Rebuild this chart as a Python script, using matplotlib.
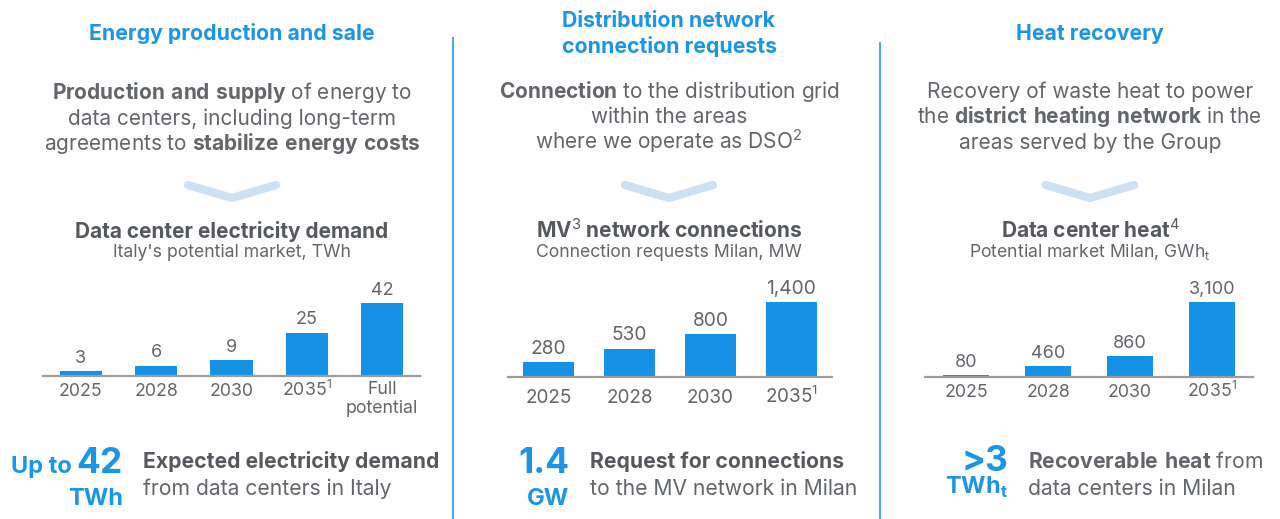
import matplotlib
matplotlib.use('Agg')
import matplotlib.pyplot as plt
from matplotlib.lines import Line2D

plt.rcParams['font.family'] = ['Inter', 'DejaVu Sans']
plt.rcParams['mathtext.fontset'] = 'custom'
plt.rcParams['mathtext.rm'] = 'Inter'
plt.rcParams['mathtext.bf'] = 'Inter:bold'

# data
elec_cats = ['2025', '2028', '2030', r'2035$^{\mathrm{1}}$', 'Full\npotential']
elec_vals = [3, 6, 9, 25, 42]
mv_cats = ['2025', '2028', '2030', r'2035$^{\mathrm{1}}$']
mv_vals = [280, 530, 800, 1400]
heat_cats = ['2025', '2028', '2030', r'2035$^{\mathrm{1}}$']
heat_vals = [80, 460, 860, 3100]

BLUE = '#1b95e6'
BAR = '#1592e6'
GREY = '#62666b'
DARK = '#55595e'
LINE = '#4da8ea'
CHEV = '#cde1f3'

W, H = 1280, 519
fig = plt.figure(figsize=(12.8, 5.19), dpi=100)


def fx(x):
    return x / W


def fy(y):
    return 1 - y / H


def txt(x, y, s, size, color=GREY, weight='normal', ha='center', va='baseline'):
    fig.text(fx(x), fy(y), s, fontsize=size, color=color, fontweight=weight,
             ha=ha, va=va)


def bars(left, right, base, top_px, cats, vals, width, lab_off=14.3, fs=12.8):
    ax = fig.add_axes([fx(left), fy(base), (right - left) / W, 90 / H])
    b = ax.bar(range(len(vals)), vals, width=width, color=BAR)
    ax.set_xlim(-0.5, len(vals) - 0.5)
    ax.set_ylim(0, max(vals) * 90 / top_px)
    for s in ['top', 'left', 'right']:
        ax.spines[s].set_visible(False)
    ax.spines['bottom'].set_color('#9c9c9c')
    ax.spines['bottom'].set_linewidth(1.6)
    ax.set_yticks([])
    ax.set_xticks([])
    # category labels, first line baseline just under the axis
    for i, c in enumerate(cats):
        extra = 12.3 * c.count('\n')
        ax.annotate(c, (i, 0), xycoords=('data', 'axes fraction'),
                    xytext=(0, -lab_off - extra), textcoords='offset points',
                    ha='center', va='baseline', fontsize=fs, color=GREY,
                    linespacing=1.15)
    ax.bar_label(b, labels=[f'{v:,}' for v in vals], padding=3,
                 fontsize=fs + 0.2, color=GREY)
    ax.patch.set_alpha(0)


def chevron(xc):
    fig.add_artist(Line2D([fx(xc - 44), fx(xc), fx(xc + 44)],
                          [fy(185), fy(198), fy(185)], transform=fig.transFigure,
                          color=CHEV, lw=6, solid_capstyle='round',
                          solid_joinstyle='round'))


# dividers
for x, y0 in [(453, 38), (880, 43)]:
    fig.add_artist(Line2D([fx(x), fx(x)], [fy(y0), fy(519)],
                          transform=fig.transFigure, color=LINE, lw=1.5))

SUB = 12.7
BIG = 25.5
MID = 17
DESC = 15.2
TITLE = 15.3

# panel 1
c1, c2, c3 = 232, 669, 1090
txt(c1, 40, 'Energy production and sale', TITLE, BLUE, 'bold')
txt(c1, 99, r'$\mathbf{Production\ and\ supply}$ of energy to', 15)
txt(c1, 125, 'data centers, including long-term', 15)
txt(c1, 150, r'agreements to $\mathbf{stabilize\ energy\ costs}$', 15)
chevron(c1)
txt(c1, 238, 'Data center electricity demand', 15, DARK, 'bold')
txt(c1, 257, "Italy's potential market, TWh", SUB)
bars(43, 420, 376, 73, elec_cats, elec_vals, 0.56)
txt(72, 473, 'Up to', MID, BLUE, 'bold', ha='right')
txt(123, 473, '42', BIG, BLUE, 'bold', ha='right')
txt(123, 505, 'TWh', MID, BLUE, 'bold', ha='right')
txt(143, 468, 'Expected electricity demand', DESC, DARK, 'bold', ha='left')
txt(143, 495, 'from data centers in Italy', DESC, ha='left')

# panel 2
txt(c2, 27, 'Distribution network', TITLE, BLUE, 'bold')
txt(c2, 53, 'connection requests', TITLE, BLUE, 'bold')
txt(c2, 98, r'$\mathbf{Connection}$ to the distribution grid', 15)
txt(c2, 123, 'within the areas', 15)
txt(c2, 149, r'where we operate as DSO$^{\mathrm{2}}$', 15)
chevron(c2)
txt(c2, 238, r'MV$^{\mathrm{3}}$ network connections', 15, DARK, 'bold')
txt(c2, 257, 'Connection requests Milan, MW', SUB)
bars(508, 832, 377, 75, mv_cats, mv_vals, 0.62, lab_off=18.5, fs=13.6)
txt(569, 473, '1.4', BIG, BLUE, 'bold', ha='right')
txt(569, 505, 'GW', MID, BLUE, 'bold', ha='right')
txt(590, 468, 'Request for connections', DESC, DARK, 'bold', ha='left')
txt(590, 495, 'to the MV network in Milan', DESC, ha='left')

# panel 3
txt(c3, 40, 'Heat recovery', TITLE, BLUE, 'bold')
txt(c3, 98, 'Recovery of waste heat to power', 15)
txt(c3, 123, r'the $\mathbf{district\ heating\ network}$ in the', 15)
txt(c3, 149, 'areas served by the Group', 15)
chevron(c3)
txt(c3, 238, r'Data center heat$^{\mathrm{4}}$', 15, DARK, 'bold')
txt(c3, 257, r'Potential market Milan, GWh$_\mathrm{t}$', SUB)
bars(925, 1253, 377, 75, heat_cats, heat_vals, 0.55)
txt(1008, 471, '>3', BIG, BLUE, 'bold', ha='right')
txt(1008, 494, r'TWh$_\mathbf{t}$', MID, BLUE, 'bold', ha='right')
txt(1028, 468, r'$\mathbf{Recoverable\ heat}$ from', DESC, ha='left')
txt(1028, 495, 'data centers in Milan', DESC, ha='left')

fig.savefig('out.png', dpi=100, facecolor='white')
